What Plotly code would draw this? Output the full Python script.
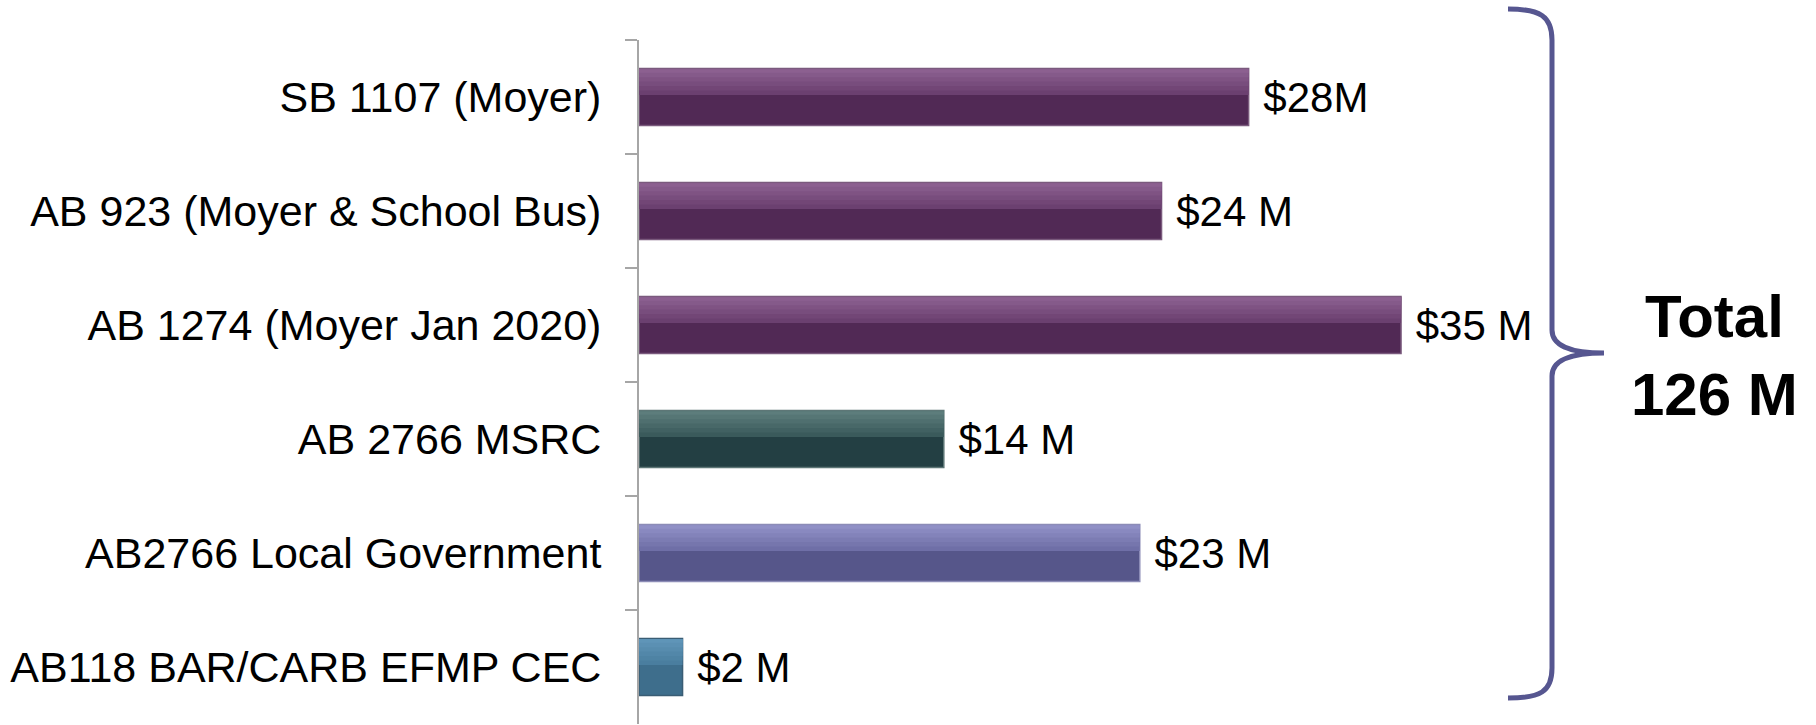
import plotly.graph_objects as go

programs = ["SB 1107 (Moyer)", "AB 923 (Moyer & School Bus)", "AB 1274 (Moyer Jan 2020)",
            "AB 2766 MSRC", "AB2766 Local Government", "AB118 BAR/CARB EFMP CEC"]
funding = [28, 24, 35, 14, 23, 2]
value_labels = ["$28M", "$24 M", "$35 M", "$14 M", "$23 M", "$2 M"]
total_label = "Total<br>126 M"

# bar styling (bevel imitation: dark base, upper facet shaded in steps)
base_colors = ["#512955", "#512955", "#512955", "#233f43", "#56568a", "#3e6e8c"]
facet_mid = ["#6b4070", "#6b4070", "#6b4070", "#3a5a5b", "#6f6fa7", "#4a7e9f"]
facet_top = ["#8c6090", "#8c6090", "#8c6090", "#5d7d7c", "#9090c6", "#5f95b8"]
edge_colors = ["#7a5a7d", "#7a5a7d", "#7a5a7d", "#5d7676", "#8c8cb6", "#3a5d74"]

W, H = 1816, 725
L, T = 639, 40
PW, PH = 958, 684
font = "Liberation Sans, Arial, sans-serif"


def px(x, y):
    return (x - L) / PW, 1 - (y - T) / PH


def mix(c1, c2, f):
    a = [int(c1[i:i + 2], 16) for i in (1, 3, 5)]
    b = [int(c2[i:i + 2], 16) for i in (1, 3, 5)]
    return "#" + "".join(f"{round(a[k] + (b[k] - a[k]) * f):02x}" for k in range(3))


fig = go.Figure()
fig.add_trace(go.Bar(
    y=programs, x=funding, orientation="h", width=0.5,
    marker=dict(color=base_colors, line=dict(color=edge_colors, width=1.5)),
    text=value_labels, texttemplate="\u00a0%{text}", textposition="outside",
    textfont=dict(family=font, size=42, color="black"),
    constraintext="none", cliponaxis=False, hoverinfo="skip",
))
steps = 6
for s in range(steps):
    f = s / (steps - 1)
    w = 0.225 * (1 - f) + 0.03 * f
    fig.add_trace(go.Bar(
        y=programs, x=funding, orientation="h", width=w, offset=-0.243,
        marker=dict(color=[mix(m, t, f) for m, t in zip(facet_mid, facet_top)], line=dict(width=0)),
        hoverinfo="skip",
    ))

# brace on the right
pts = [(1508, 9), (1540, 9), (1552, 16), (1552, 40), (1552, 330),
       (1552, 347), (1572, 353), (1604, 353),
       (1572, 353), (1552, 359), (1552, 376), (1552, 668),
       (1552, 692), (1540, 698), (1508, 698)]
p = [px(*q) for q in pts]
path = (f"M {p[0][0]},{p[0][1]} C {p[1][0]},{p[1][1]} {p[2][0]},{p[2][1]} {p[3][0]},{p[3][1]} "
        f"L {p[4][0]},{p[4][1]} C {p[5][0]},{p[5][1]} {p[6][0]},{p[6][1]} {p[7][0]},{p[7][1]} "
        f"C {p[8][0]},{p[8][1]} {p[9][0]},{p[9][1]} {p[10][0]},{p[10][1]} "
        f"L {p[11][0]},{p[11][1]} C {p[12][0]},{p[12][1]} {p[13][0]},{p[13][1]} {p[14][0]},{p[14][1]}")
fig.add_shape(type="path", path=path, xref="paper", yref="paper",
              line=dict(color="#565690", width=5), fillcolor="rgba(0,0,0,0)")

tx, ty = px(1714, 355)
fig.add_annotation(text=f"<b>{total_label}</b>", x=tx, y=ty, xref="paper", yref="paper",
                   xanchor="center", yanchor="middle", showarrow=False,
                   font=dict(family=font, size=60, color="black"))

fig.update_layout(
    width=W, height=H, barmode="overlay", showlegend=False,
    margin=dict(l=L, r=W - L - PW, t=T, b=H - T - PH),
    paper_bgcolor="white", plot_bgcolor="white",
    xaxis=dict(range=[0, 44], visible=False),
    yaxis=dict(type="category", autorange="reversed", showline=True, linecolor="#a6a6a6",
               linewidth=2, ticks="outside", ticklen=12, tickwidth=2, tickcolor="#a6a6a6",
               tickson="boundaries", showgrid=False, ticklabelstandoff=27,
               tickfont=dict(family=font, size=43, color="black")),
)

fig.write_html("out.html", post_script="document.body.style.margin='0';",
               config={"displayModeBar": False})
